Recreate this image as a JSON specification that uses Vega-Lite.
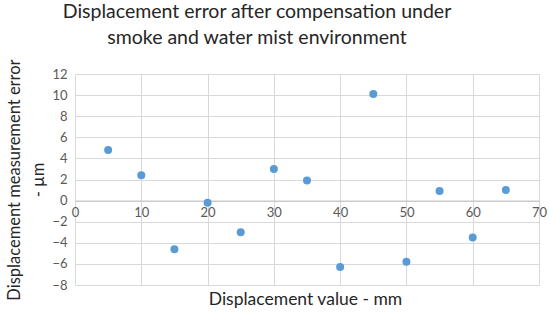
{
  "$schema": "https://vega.github.io/schema/vega-lite/v6.json",
  "autosize": {"type": "none"},
  "width": 464,
  "height": 211,
  "padding": {"left": 75, "top": 74, "right": 11, "bottom": 43},
  "background": "white",
  "title": {
    "text": ["Displacement error after compensation under", "smoke and water mist environment"],
    "font": "Lato",
    "fontSize": 19.5,
    "fontWeight": "normal",
    "color": "#262626",
    "anchor": "middle",
    "dx": -50,
    "lineHeight": 26,
    "offset": 10
  },
  "data": {
    "values": [
      {"x": 5, "y": 4.8},
      {"x": 10, "y": 2.4},
      {"x": 15, "y": -4.6},
      {"x": 20, "y": -0.2},
      {"x": 25, "y": -3.0},
      {"x": 30, "y": 3.0},
      {"x": 35, "y": 1.9},
      {"x": 40, "y": -6.3},
      {"x": 45, "y": 10.1},
      {"x": 50, "y": -5.8},
      {"x": 55, "y": 0.9},
      {"x": 60, "y": -3.5},
      {"x": 65, "y": 1.0}
    ]
  },
  "mark": {"type": "point", "filled": true, "size": 64, "opacity": 1, "color": "#5B9BD5"},
  "encoding": {
    "x": {
      "field": "x",
      "type": "quantitative",
      "scale": {"domain": [0, 70], "nice": false, "zero": false},
      "axis": {
        "title": "Displacement value - mm",
        "values": [0, 10, 20, 30, 40, 50, 60, 70],
        "offset": -84.4,
        "ticks": false,
        "domainColor": "#bfbfbf",
        "domainWidth": 1,
        "gridColor": "#d9d9d9",
        "labelFont": "Lato",
        "labelFontSize": 13,
        "labelColor": "#595959",
        "labelPadding": 6,
        "labelFlush": false,
        "titleFont": "Lato",
        "titleFontSize": 17.5,
        "titleFontWeight": "normal",
        "titleColor": "#262626",
        "titleBaseline": "alphabetic",
        "titleY": 104,
        "titleX": 230
      }
    },
    "y": {
      "field": "y",
      "type": "quantitative",
      "scale": {"domain": [-8, 12], "nice": false, "zero": false},
      "axis": {
        "title": ["Displacement measurement error", "- µm"],
        "values": [-8, -6, -4, -2, 0, 2, 4, 6, 8, 10, 12],
        "ticks": false,
        "domain": false,
        "gridColor": "#d9d9d9",
        "labelFont": "Lato",
        "labelFontSize": 13,
        "labelColor": "#595959",
        "labelPadding": 8,
        "labelFlush": false,
        "titleFont": "Lato",
        "titleFontSize": 16.5,
        "titleFontWeight": "normal",
        "titleColor": "#262626",
        "titleLineHeight": 24,
        "titleBaseline": "middle",
        "titleX": -61,
        "titleY": 105.5
      }
    }
  },
  "config": {
    "view": {"stroke": "#d9d9d9"}
  }
}
